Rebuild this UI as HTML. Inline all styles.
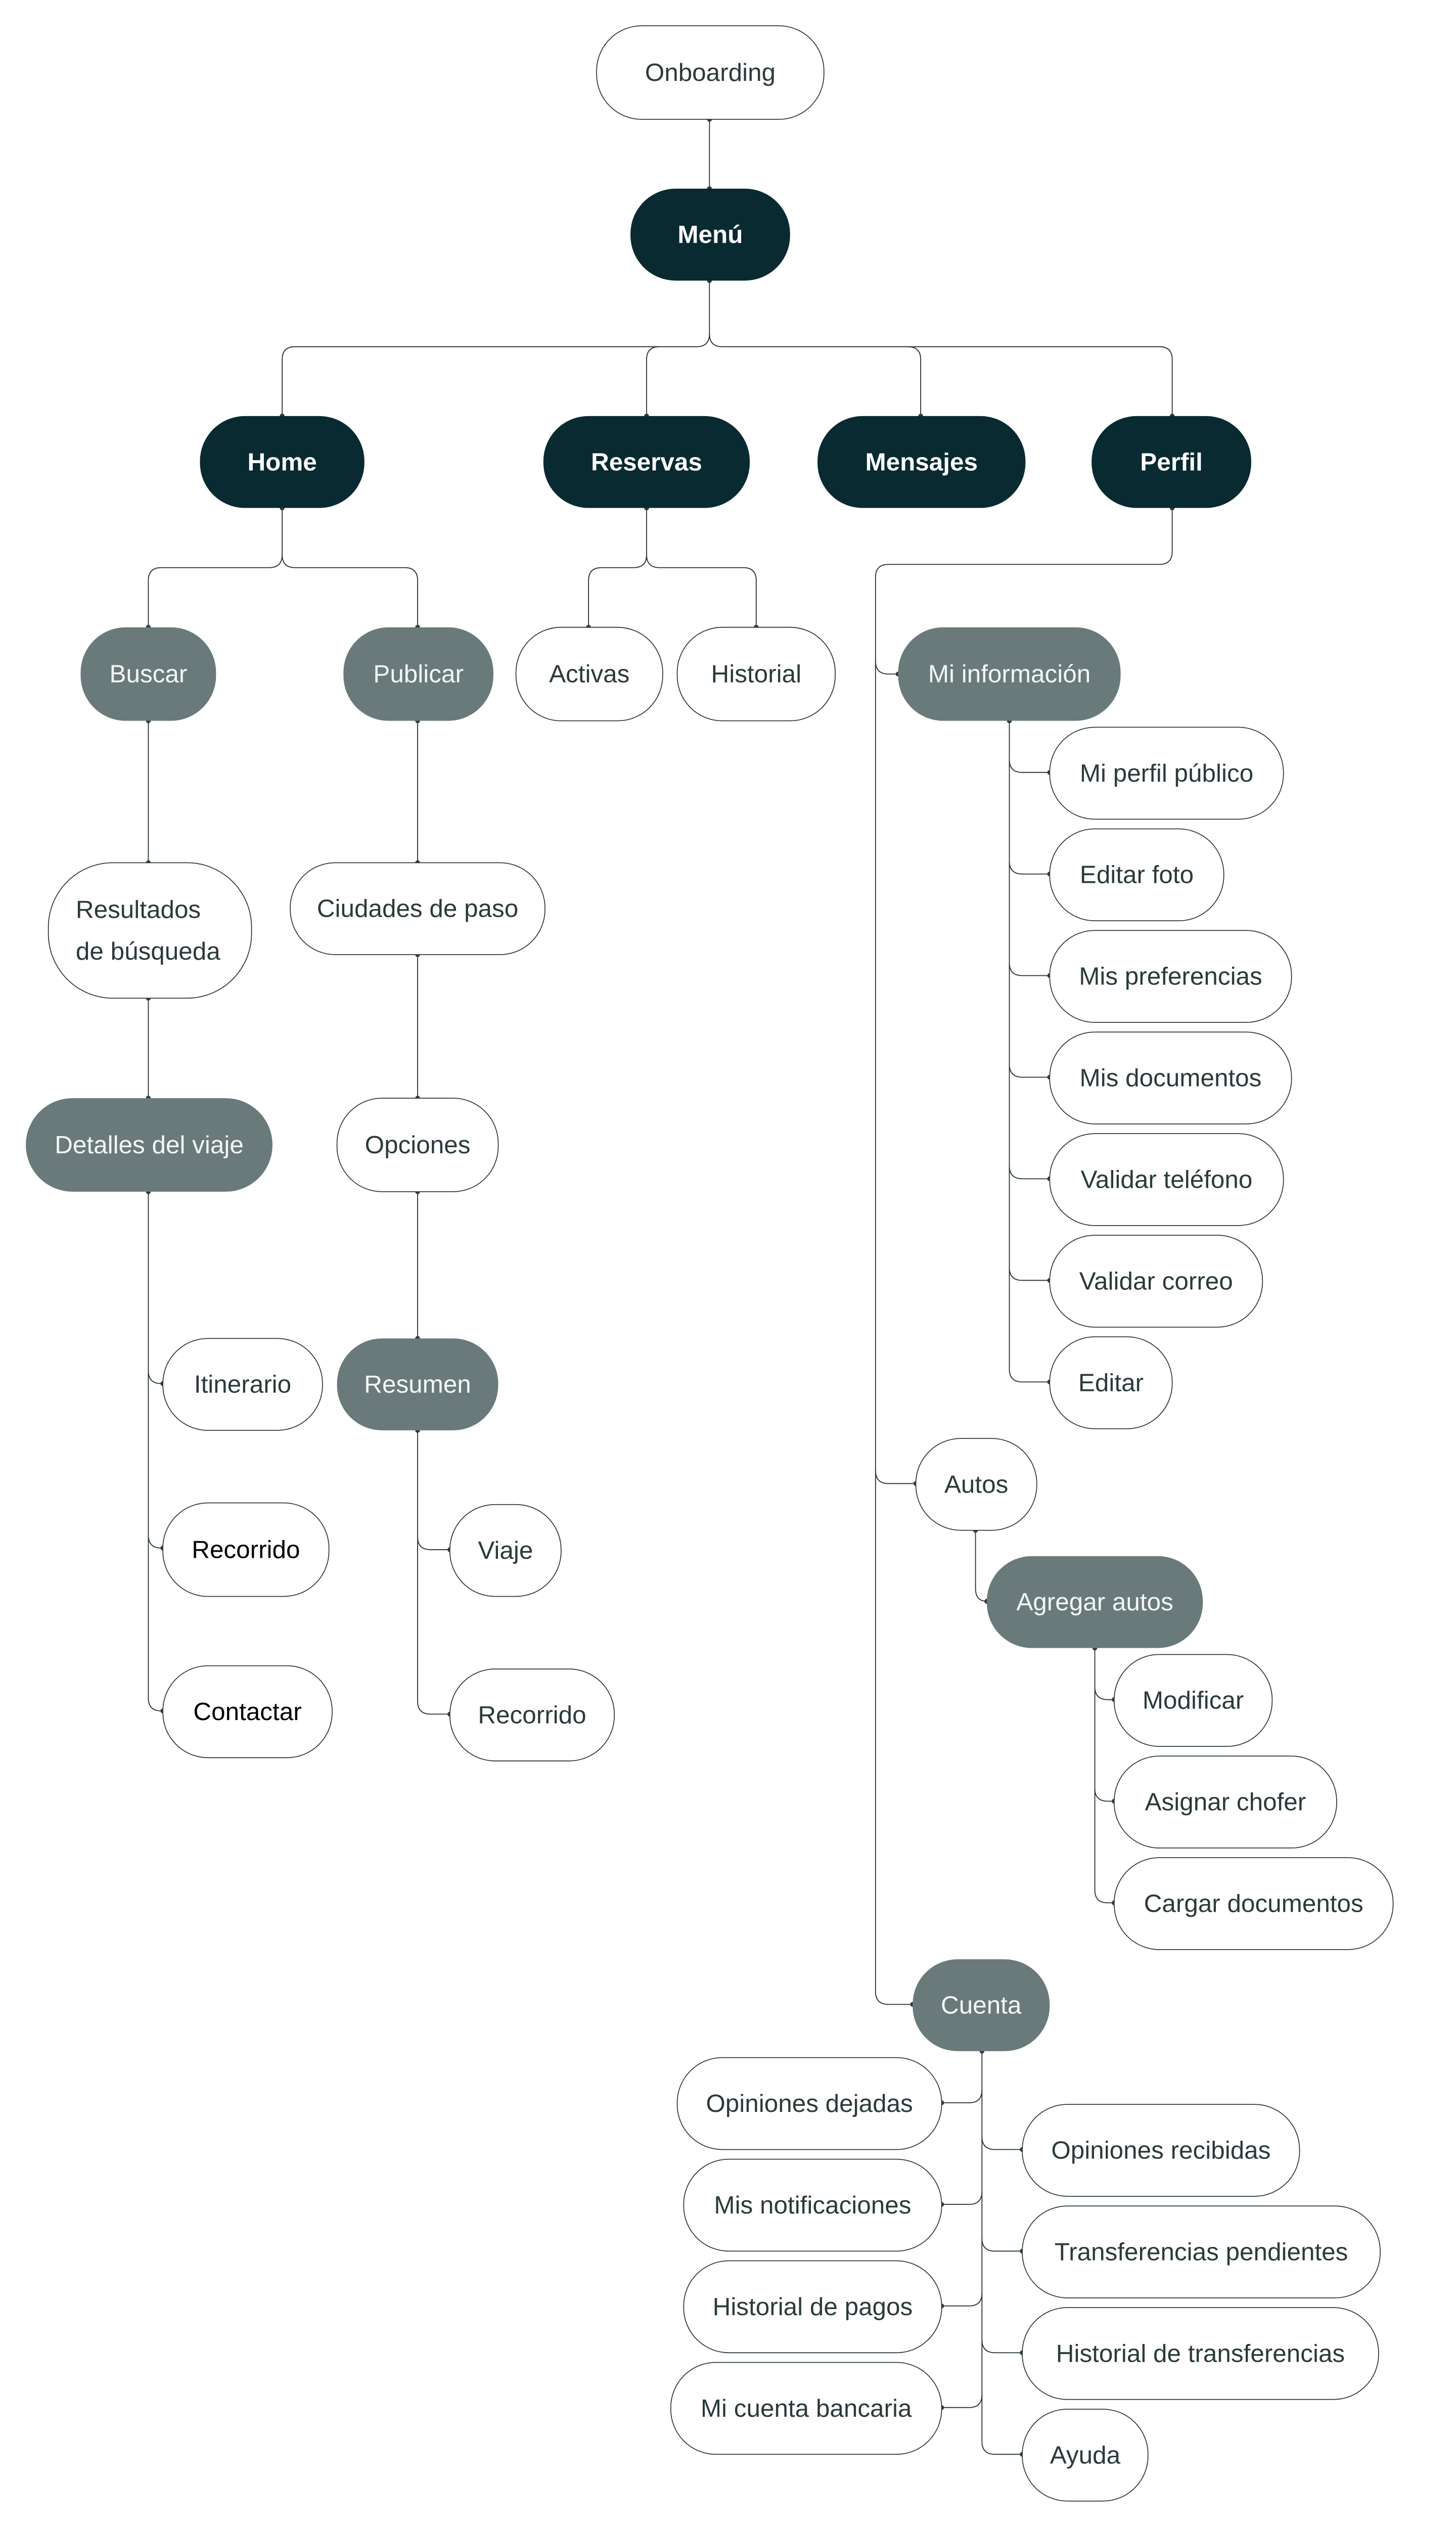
<!DOCTYPE html>
<html><head><meta charset="utf-8"><style>
html,body{margin:0;padding:0;background:#fff;overflow:hidden}
svg{display:block}
text{font-family:"Liberation Sans",sans-serif;font-size:15.5px;text-anchor:middle;dominant-baseline:central}
.w rect{fill:#fff;stroke:#2f3b3b;stroke-width:0.55}
.w text{fill:#2b3a3a}
.d rect{fill:#082a30}
.d text{fill:#fff;font-weight:bold}
.g rect{fill:#6a7a7a}
.g text{fill:#f4f6f6}
path{fill:none;stroke:#2f3b3b;stroke-width:0.6}
circle{fill:#2f3b3b}
</style></head><body>
<svg width="2880" height="5126" viewBox="0 0 903 1607.2" xmlns="http://www.w3.org/2000/svg">
<!-- connectors -->
<path d="M440 74 V117"/>
<path d="M440 174 V207 Q440 215 432 215 H183 Q175 215 175 223 V258"/>
<path d="M440 207 Q440 215 448 215 H719 Q727 215 727 223 V258"/>
<path d="M401 258 V223 Q401 215 409 215"/>
<path d="M571 258 V223 Q571 215 563 215"/>
<path d="M175 315 V344 Q175 352 167 352 H100 Q92 352 92 360 V389"/>
<path d="M175 344 Q175 352 183 352 H251 Q259 352 259 360 V389"/>
<path d="M401 315 V344 Q401 352 393 352 H373 Q365 352 365 360 V389"/>
<path d="M401 344 Q401 352 409 352 H461 Q469 352 469 360 V389"/>
<path d="M727 315 V342 Q727 350 719 350 H551 Q543 350 543 358 V1235 Q543 1243 551 1243 H566"/>
<path d="M543 410 Q543 418 551 418 H557"/>
<path d="M543 912 Q543 920 551 920 H568"/>
<path d="M92 447 V535 M92 619 V681 M92 739 V1053 Q92 1061 100 1061 H101"/>
<path d="M92 850 Q92 858 100 858 H101 M92 952 Q92 960 100 960 H101"/>
<path d="M259 447 V535 M259 592 V681 M259 739 V830 M259 887 V1055 Q259 1063 267 1063 H279"/>
<path d="M259 953 Q259 961 267 961 H279"/>
<path d="M626 447 V849 Q626 857 634 857 H651"/>
<path d="M626 471 Q626 479 634 479 H651 M626 534 Q626 542 634 542 H651 M626 597 Q626 605 634 605 H651 M626 660 Q626 668 634 668 H651 M626 723 Q626 731 634 731 H651 M626 786 Q626 794 634 794 H651"/>
<path d="M605 949 V985 Q605 993 612 993"/>
<path d="M679 1022 V1172 Q679 1180 687 1180 H691 M679 1046 Q679 1054 687 1054 H691 M679 1109 Q679 1117 687 1117 H691"/>
<path d="M609 1272 V1514 Q609 1522 617 1522 H634"/>
<path d="M609 1325 Q609 1333 617 1333 H634 M609 1388 Q609 1396 617 1396 H634 M609 1451 Q609 1459 617 1459 H634"/>
<path d="M609 1296 Q609 1304 601 1304 H584 M609 1359 Q609 1367 601 1367 H584 M609 1422 Q609 1430 601 1430 H584 M609 1485 Q609 1493 601 1493 H584"/>
<!-- dots -->
<g>
<circle cx="440" cy="74" r="1.5"/><circle cx="440" cy="117" r="1.5"/><circle cx="440" cy="174" r="1.5"/>
<circle cx="175" cy="258" r="1.5"/><circle cx="401" cy="258" r="1.5"/><circle cx="571" cy="258" r="1.5"/><circle cx="727" cy="258" r="1.5"/>
<circle cx="175" cy="315" r="1.5"/><circle cx="401" cy="315" r="1.5"/><circle cx="727" cy="315" r="1.5"/>
<circle cx="92" cy="389" r="1.5"/><circle cx="259" cy="389" r="1.5"/><circle cx="365" cy="389" r="1.5"/><circle cx="469" cy="389" r="1.5"/>
<circle cx="557" cy="418" r="1.5"/><circle cx="568" cy="920" r="1.5"/><circle cx="566" cy="1243" r="1.5"/>
<circle cx="92" cy="447" r="1.5"/><circle cx="92" cy="535" r="1.5"/><circle cx="92" cy="619" r="1.5"/><circle cx="92" cy="681" r="1.5"/><circle cx="92" cy="739" r="1.5"/>
<circle cx="101" cy="858" r="1.5"/><circle cx="101" cy="960" r="1.5"/><circle cx="101" cy="1061" r="1.5"/>
<circle cx="259" cy="447" r="1.5"/><circle cx="259" cy="535" r="1.5"/><circle cx="259" cy="592" r="1.5"/><circle cx="259" cy="681" r="1.5"/><circle cx="259" cy="739" r="1.5"/><circle cx="259" cy="830" r="1.5"/><circle cx="259" cy="887" r="1.5"/>
<circle cx="279" cy="961" r="1.5"/><circle cx="279" cy="1063" r="1.5"/>
<circle cx="626" cy="447" r="1.5"/>
<circle cx="651" cy="479" r="1.5"/><circle cx="651" cy="542" r="1.5"/><circle cx="651" cy="605" r="1.5"/><circle cx="651" cy="668" r="1.5"/><circle cx="651" cy="731" r="1.5"/><circle cx="651" cy="794" r="1.5"/><circle cx="651" cy="857" r="1.5"/>
<circle cx="605" cy="949" r="1.5"/><circle cx="612" cy="993" r="1.5"/><circle cx="679" cy="1022" r="1.5"/>
<circle cx="691" cy="1054" r="1.5"/><circle cx="691" cy="1117" r="1.5"/><circle cx="691" cy="1180" r="1.5"/>
<circle cx="609" cy="1272" r="1.5"/>
<circle cx="584" cy="1304" r="1.5"/><circle cx="584" cy="1367" r="1.5"/><circle cx="584" cy="1430" r="1.5"/><circle cx="584" cy="1493" r="1.5"/>
<circle cx="634" cy="1333" r="1.5"/><circle cx="634" cy="1396" r="1.5"/><circle cx="634" cy="1459" r="1.5"/><circle cx="634" cy="1522" r="1.5"/>
</g>
<!-- nodes -->
<g class="w"><rect x="370" y="16" width="141" height="58" rx="28"/><text x="440.5" y="45">Onboarding</text></g>
<g class="d"><rect x="391" y="117" width="99" height="57" rx="28"/><text x="440.5" y="145.5">Menú</text></g>
<g class="d"><rect x="124" y="258" width="102" height="57" rx="28"/><text x="175" y="286.5">Home</text></g>
<g class="d"><rect x="337" y="258" width="128" height="57" rx="28"/><text x="401" y="286.5">Reservas</text></g>
<g class="d"><rect x="507" y="258" width="129" height="57" rx="28"/><text x="571.5" y="286.5">Mensajes</text></g>
<g class="d"><rect x="677" y="258" width="99" height="57" rx="28"/><text x="726.5" y="286.5">Perfil</text></g>
<g class="g"><rect x="50" y="389" width="84" height="58" rx="28"/><text x="92" y="418">Buscar</text></g>
<g class="g"><rect x="213" y="389" width="93" height="58" rx="28"/><text x="259.5" y="418">Publicar</text></g>
<g class="w"><rect x="320" y="389" width="91" height="58" rx="28"/><text x="365.5" y="418">Activas</text></g>
<g class="w"><rect x="420" y="389" width="98" height="58" rx="28"/><text x="469" y="418">Historial</text></g>
<g class="g"><rect x="557" y="389" width="138" height="58" rx="28"/><text x="626" y="418">Mi información</text></g>
<g class="w"><rect x="30" y="535" width="126" height="84" rx="40"/><text x="47" y="564" style="text-anchor:start">Resultados</text><text x="47" y="590" style="text-anchor:start">de búsqueda</text></g>
<g class="w"><rect x="180" y="535" width="158" height="57" rx="28"/><text x="259" y="563.5">Ciudades de paso</text></g>
<g class="g"><rect x="16" y="681" width="153" height="58" rx="29"/><text x="92.5" y="710">Detalles del viaje</text></g>
<g class="w"><rect x="209" y="681" width="100" height="58" rx="28"/><text x="259" y="710">Opciones</text></g>
<g class="w"><rect x="101" y="830" width="99" height="57" rx="28"/><text x="150.5" y="858.5">Itinerario</text></g>
<g class="g"><rect x="209" y="830" width="100" height="57" rx="28"/><text x="259" y="858.5">Resumen</text></g>
<g class="w"><rect x="101" y="932" width="103" height="58" rx="28"/><text x="152.5" y="961" style="fill:#000">Recorrido</text></g>
<g class="w"><rect x="279" y="933" width="69" height="57" rx="28"/><text x="313.5" y="961.5">Viaje</text></g>
<g class="w"><rect x="101" y="1033" width="105" height="57" rx="28"/><text x="153.5" y="1061.5" style="fill:#000">Contactar</text></g>
<g class="w"><rect x="279" y="1035" width="102" height="57" rx="28"/><text x="330" y="1063.5">Recorrido</text></g>
<g class="w"><rect x="651" y="451" width="145" height="57" rx="28"/><text x="723.5" y="479.5">Mi perfil público</text></g>
<g class="w"><rect x="651" y="514" width="108" height="57" rx="28"/><text x="705" y="542.5">Editar foto</text></g>
<g class="w"><rect x="651" y="577" width="150" height="57" rx="28"/><text x="726" y="605.5">Mis preferencias</text></g>
<g class="w"><rect x="651" y="640" width="150" height="57" rx="28"/><text x="726" y="668.5">Mis documentos</text></g>
<g class="w"><rect x="651" y="703" width="145" height="57" rx="28"/><text x="723.5" y="731.5">Validar teléfono</text></g>
<g class="w"><rect x="651" y="766" width="132" height="57" rx="28"/><text x="717" y="794.5">Validar correo</text></g>
<g class="w"><rect x="651" y="829" width="76" height="57" rx="28"/><text x="689" y="857.5">Editar</text></g>
<g class="w"><rect x="568" y="892" width="75" height="57" rx="28"/><text x="605.5" y="920.5">Autos</text></g>
<g class="g"><rect x="612" y="965" width="134" height="57" rx="28"/><text x="679" y="993.5">Agregar autos</text></g>
<g class="w"><rect x="691" y="1026" width="98" height="57" rx="28"/><text x="740" y="1054.5">Modificar</text></g>
<g class="w"><rect x="691" y="1089" width="138" height="57" rx="28"/><text x="760" y="1117.5">Asignar chofer</text></g>
<g class="w"><rect x="691" y="1152" width="173" height="57" rx="28"/><text x="777.5" y="1180.5">Cargar documentos</text></g>
<g class="g"><rect x="566" y="1215" width="85" height="57" rx="28"/><text x="608.5" y="1243.5">Cuenta</text></g>
<g class="w"><rect x="420" y="1276" width="164" height="57" rx="28"/><text x="502" y="1304.5">Opiniones dejadas</text></g>
<g class="w"><rect x="424" y="1339" width="160" height="57" rx="28"/><text x="504" y="1367.5">Mis notificaciones</text></g>
<g class="w"><rect x="424" y="1402" width="160" height="57" rx="28"/><text x="504" y="1430.5">Historial de pagos</text></g>
<g class="w"><rect x="416" y="1465" width="168" height="57" rx="28"/><text x="500" y="1493.5">Mi cuenta bancaria</text></g>
<g class="w"><rect x="634" y="1305" width="172" height="57" rx="28"/><text x="720" y="1333.5">Opiniones recibidas</text></g>
<g class="w"><rect x="634" y="1368" width="222" height="57" rx="28"/><text x="745" y="1396.5">Transferencias pendientes</text></g>
<g class="w"><rect x="634" y="1431" width="221" height="57" rx="28"/><text x="744.5" y="1459.5">Historial de transferencias</text></g>
<g class="w"><rect x="634" y="1494" width="78" height="57" rx="28"/><text x="673" y="1522.5">Ayuda</text></g>
</svg>
</body></html>
